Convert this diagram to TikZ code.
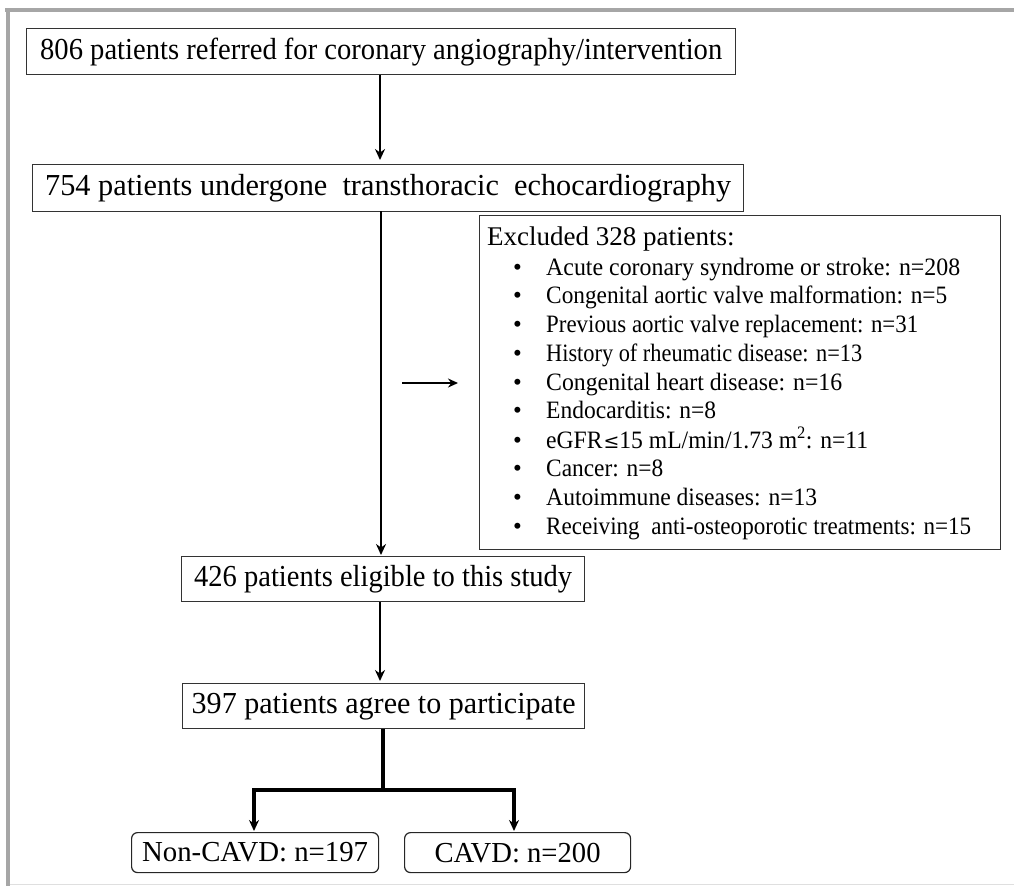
\documentclass[tikz,border=0pt]{standalone}
\usepackage{fontspec}
\setmainfont{Liberation Serif}
\usetikzlibrary{arrows.meta}
\tikzset{
  box/.style={draw=black!80, line width=1.4pt, inner sep=0pt, minimum height=#1, anchor=north west, align=center},
  rbox/.style={draw=black!85, line width=1.2pt, rounded corners=6pt, inner sep=0pt, anchor=north west},
  flow/.style={line width=2.8pt, -{Stealth[length=11pt,width=10pt]}},
  branch/.style={line width=3.6pt},
}
\newcommand{\bigtxt}{\fontsize{30.5}{32}\selectfont}
\newcommand{\midtxt}{\fontsize{25}{28.7}\selectfont}
\begin{document}
\begin{tikzpicture}[x=1pt,y=-1pt]
\useasboundingbox (0,0) rectangle (1014,886);
% frame
\fill[gray!70] (5,8) rectangle (1014,12);
\fill[gray!70] (6,8) rectangle (10,886);
\draw[gray!25, line width=1pt] (10,884) -- (1014,884);
% boxes
\node[box=46pt, minimum width=709pt] (b1) at (26,28) {\bigtxt\resizebox{682pt}{\height}{806 patients referred for coronary angiography/intervention}};
\node[box=47pt, minimum width=711pt] (b2) at (32,164) {\bigtxt\resizebox{686pt}{\height}{754 patients undergone\ \ transthoracic\ \ echocardiography}};
\node[draw=black!80, line width=1.4pt, anchor=north west, minimum width=521pt, minimum height=334pt, inner sep=0pt] (ex) at (479,215) {};
\node[anchor=north west, inner sep=0pt] (ext) at (487,227) {\fontsize{27}{30}\selectfont Excluded 328 patients:};
\node[anchor=north west, inner sep=0pt, align=left] (exl) at (513,255) {\midtxt
\begin{tabular}{@{}p{33pt}@{}l@{}}
\textbullet & \resizebox{414pt}{\height}{Acute coronary syndrome or stroke: n=208}\\
\textbullet & \resizebox{401pt}{\height}{Congenital aortic valve malformation: n=5}\\
\textbullet & \resizebox{372pt}{\height}{Previous aortic valve replacement: n=31}\\
\textbullet & \resizebox{316pt}{\height}{History of rheumatic disease: n=13}\\
\textbullet & \resizebox{296pt}{\height}{Congenital heart disease: n=16}\\
\textbullet & \resizebox{170pt}{\height}{Endocarditis: n=8}\\
\textbullet & \resizebox{322pt}{\height}{eGFR\kern1pt{\fontspec{DejaVu Serif}\fontsize{20}{20}\selectfont ≤}15 mL/min/1.73 m\textsuperscript{2}: n=11}\\
\textbullet & \resizebox{117pt}{\height}{Cancer: n=8}\\
\textbullet & \resizebox{271pt}{\height}{Autoimmune diseases: n=13}\\
\textbullet & \resizebox{425pt}{\height}{Receiving\ \ anti-osteoporotic treatments: n=15}
\end{tabular}};
\node[box=45pt, minimum width=403pt] (b3) at (181,556) {\bigtxt\resizebox{378pt}{\height}{426 patients eligible to this study}};
\node[box=45pt, minimum width=402pt] (b4) at (182,683) {\bigtxt\resizebox{384pt}{\height}{397 patients agree to participate}};
\node[rbox, minimum width=247pt, minimum height=40pt] (n1) at (131,832) {\fontsize{29}{30}\selectfont\resizebox{226pt}{\height}{Non-CAVD: n=197}};
\node[rbox, minimum width=226pt, minimum height=40pt] (n2) at (404,832) {\fontsize{29}{30}\selectfont\resizebox{166pt}{\height}{CAVD: n=200}};
% connectors
\coordinate (c1) at (380,75);
\draw[flow] (c1) -- (380,160);
\coordinate (c2) at (381,211);
\coordinate (c3) at (381,555);
\draw[flow] (c2) -- (c3);
\coordinate (h1) at (402,383);
\coordinate (h2) at (458,383);
\draw[line width=2.6pt, -{Stealth[length=10pt,width=9pt]}] (h1) -- (h2);
\draw[flow] (380,602) -- (380,681);
\coordinate (j) at (383,790);
\draw[branch] (383,729) -- (j);
\draw[branch] (252,790) -- (515,790);
\draw[flow, line width=3.2pt] (254,788) -- (254,831);
\draw[flow, line width=3.2pt] (514,788) -- (514,831);
\end{tikzpicture}
\end{document}
